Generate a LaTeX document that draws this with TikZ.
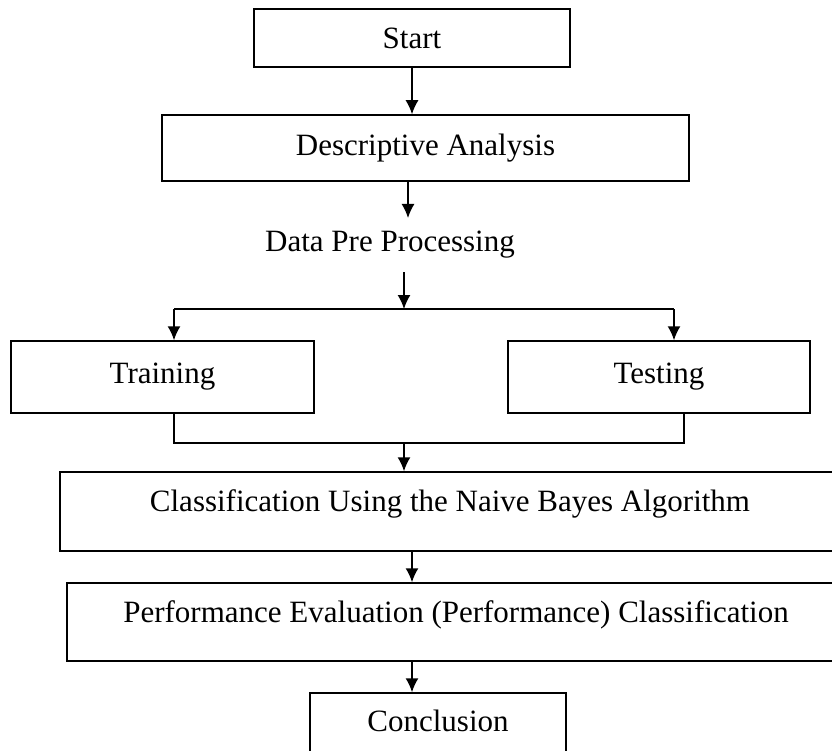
\documentclass[tikz,border=0pt]{standalone}
\usepackage{fontspec}
\setmainfont{Liberation Serif}
\usetikzlibrary{arrows.meta}
\tikzset{
  box/.style={draw, line width=1.5pt, inner sep=0pt, font=\fontsize{31}{35}\selectfont},
  txt/.style={inner xsep=0pt, inner ysep=10pt, font=\fontsize{31}{35}\selectfont},
  flow/.style={line width=1.5pt, -{Latex[length=14pt,width=13pt]}},
  wire/.style={line width=1.5pt}
}
\begin{document}
\begin{tikzpicture}[x=1pt,y=-1pt]
\useasboundingbox (0,0) rectangle (832,751);
\clip (0,0) rectangle (832,751);

% top of the flow
\node[box, minimum width=316pt, minimum height=58pt] (start) at (412,38) {Start};
\node[box, minimum width=527pt, minimum height=66pt] (desc) at (425.5,148) {Descriptive Analysis};
\node[txt] (prep) at (390,245) {Data Pre Processing};
\coordinate (prepTop) at (408,218);
\coordinate (prepBot) at (404,272);

% split into training and testing
\node[box, minimum width=303pt, minimum height=72pt] (train) at (162.5,377) {Training};
\node[box, minimum width=302pt, minimum height=72pt] (test) at (659,377) {Testing};
\coordinate (split) at (404,309);
\coordinate (splitL) at (174,309);
\coordinate (splitR) at (674,309);
\coordinate (joinL) at (174,443);
\coordinate (joinR) at (684,443);
\coordinate (join) at (404,443);

% lower boxes, text sits high in the box
\node[box, minimum width=780pt, text height=39pt, text depth=40pt] (class) at (450,511.5) {Classification Using the Naive Bayes Algorithm};
\node[box, minimum width=778pt, text height=39pt, text depth=39pt] (perf) at (456,622) {Performance Evaluation (Performance) Classification};
\node[box, minimum width=256pt, text height=38pt, text depth=49pt] (concl) at (438,736.5) {Conclusion};

% connectors
\draw[flow] (start.south) -- (start.south |- desc.north);
\draw[flow] (desc.south -| prepTop) -- (prepTop);
\draw[flow] (prepBot) -- (split);
\draw[wire] (splitL) -- (splitR);
\draw[flow] (splitL) -- (splitL |- train.north);
\draw[flow] (splitR) -- (splitR |- test.north);
\draw[wire] (train.south -| joinL) -- (joinL) -- (joinR) -- (joinR |- test.south);
\draw[flow] (join) -- (join |- class.north);
\draw[flow] (class.south -| start) -- (start |- perf.north);
\draw[flow] (perf.south -| start) -- (start |- concl.north);
\end{tikzpicture}
\end{document}
